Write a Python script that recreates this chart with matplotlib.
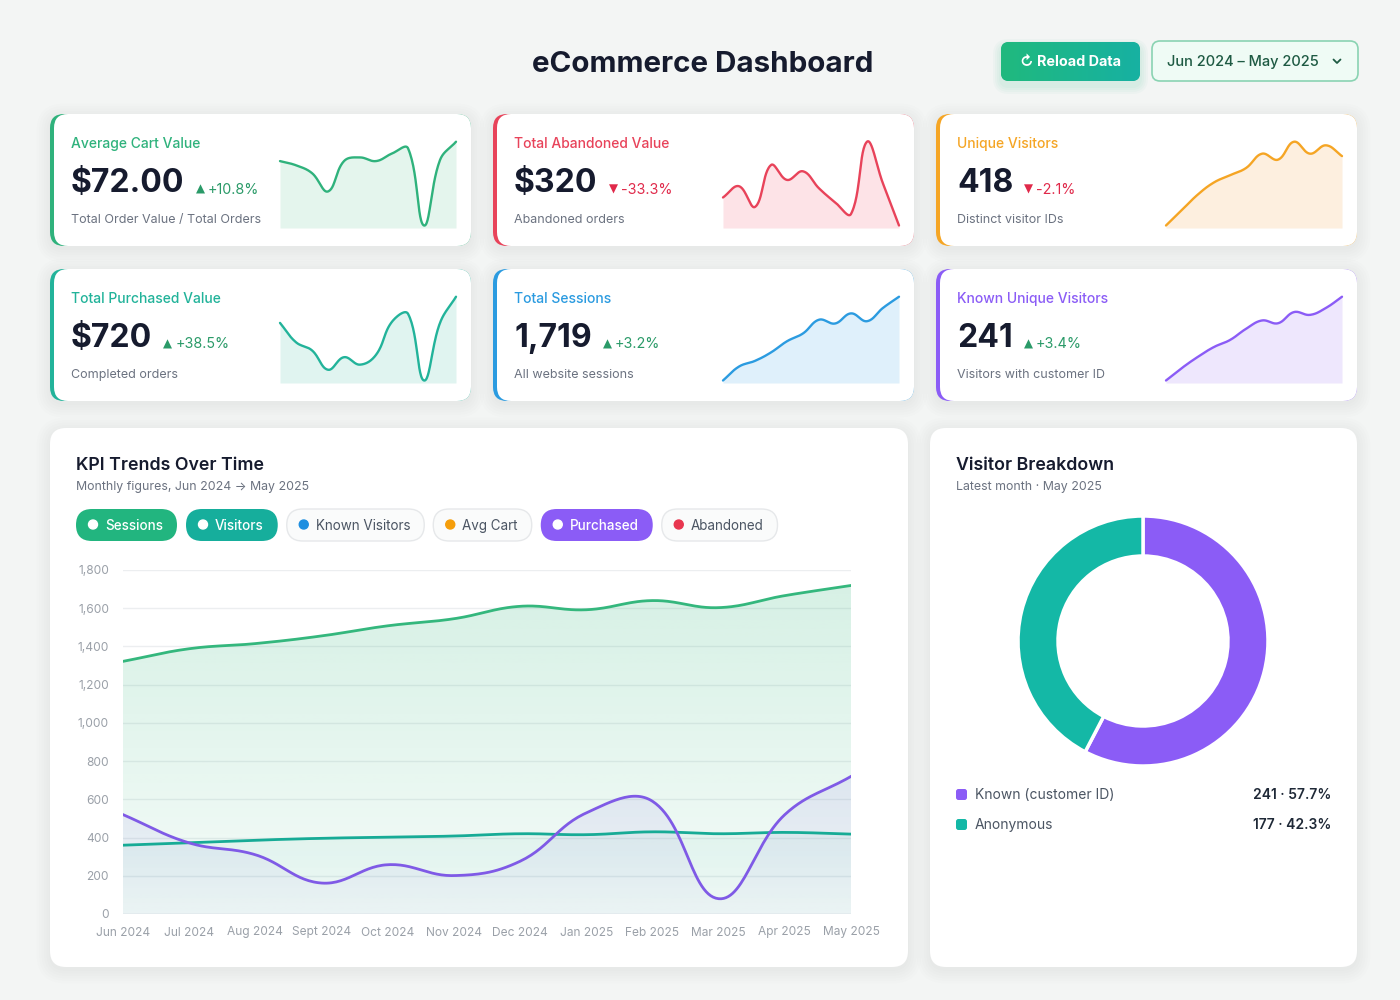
import numpy as np
import matplotlib
matplotlib.use("Agg")
import matplotlib.pyplot as plt
from matplotlib.patches import FancyBboxPatch, Circle, Polygon
from matplotlib.colors import to_rgb
from matplotlib.ticker import FuncFormatter

plt.rcParams['font.family'] = ['Inter', 'DejaVu Sans']

# ---- data ----
months = ["Jun 2024", "Jul 2024", "Aug 2024", "Sept 2024", "Oct 2024", "Nov 2024",
          "Dec 2024", "Jan 2025", "Feb 2025", "Mar 2025", "Apr 2025", "May 2025"]
sessions = [1322, 1388, 1415, 1455, 1508, 1545, 1610, 1592, 1640, 1603, 1666, 1719]
visitors = [360, 373, 386, 396, 402, 408, 420, 415, 430, 420, 427, 418]
known_visitors = [181, 190, 198, 205, 210, 218, 224, 222, 230, 228, 233, 241]
avg_cart = [64.6, 63.0, 60.0, 53.0, 64.6, 66.0, 64.6, 67.5, 69.5, 40.0, 65.0, 72.0]
purchased = [520, 372, 310, 162, 258, 201, 276, 529, 590, 80, 520, 720]
abandoned = [427, 470, 391, 551, 494, 527, 462, 409, 364, 640, 480, 320]

kpi_titles = ["Average Cart Value", "Total Abandoned Value", "Unique Visitors",
              "Total Purchased Value", "Total Sessions", "Known Unique Visitors"]
kpi_values = ["$72.00", "$320", "418", "$720", "1,719", "241"]
kpi_changes = [10.8, -33.3, -2.1, 38.5, 3.2, 3.4]
kpi_notes = ["Total Order Value / Total Orders", "Abandoned orders", "Distinct visitor IDs",
             "Completed orders", "All website sessions", "Visitors with customer ID"]
kpi_series = [avg_cart, abandoned, visitors, purchased, sessions, known_visitors]
kpi_colors = ["#2fb27c", "#e8435a", "#f5a524", "#22b39a", "#2b9be0", "#8b5cf6"]
kpi_fills = ["#e4f5ed", "#fde3e7", "#fdefdf", "#e0f4f0", "#dff0fb", "#eee7fd"]

chip_labels = ["Sessions", "Visitors", "Known Visitors", "Avg Cart", "Purchased", "Abandoned"]
chip_colors = ["#22b57f", "#16ae9c", "#1e8fe0", "#f59e0b", "#8b5cf6", "#e8364f"]
chip_active = [True, True, False, False, True, False]

donut_labels = ["Known (customer ID)", "Anonymous"]
donut_values = [241, 177]
donut_colors = ["#8b5cf6", "#14b8a6"]

BG = "#f3f5f4"
DARK = "#161b2e"
GREY = "#6b7280"
W, H = 1400, 1000

fig = plt.figure(figsize=(14, 10), dpi=100)
fig.patch.set_facecolor(BG)
bg = fig.add_axes([0, 0, 1, 1])
bg.set_xlim(0, W)
bg.set_ylim(H, 0)
bg.set_axis_off()


def px(x0, y0, x1, y1):
    return [x0 / W, 1 - y1 / H, (x1 - x0) / W, (y1 - y0) / H]


def rbox(x, y, w, h, r, fc, ec="none", lw=0, z=1):
    p = FancyBboxPatch((x, y), w, h, boxstyle=f"round,pad=0,rounding_size={r}",
                       fc=fc, ec=ec, lw=lw, zorder=z)
    bg.add_patch(p)
    return p


def card(x, y, w, h, accent=None, r=16):
    # soft shadow
    for k in range(6):
        g = 1 + k * 2.5
        rbox(x - g, y - g + 3, w + 2 * g, h + 2 * g, r + g, (0, 0, 0, 0.008), z=0.5)
    if accent:
        rbox(x, y, w, h, r, accent, z=1)
        rbox(x + 4, y, w - 4, h, r, "white", z=1.1)
    else:
        rbox(x, y, w, h, r, "white", z=1)


def smooth(ax, x, y, tension=0.4, n=30):
    # chart.js style bezier, control points in display space
    pts = ax.transData.transform(np.column_stack([x, y]).astype(float))
    m = len(pts)
    cpp, cpn = pts.copy(), pts.copy()
    for i in range(m):
        p0, p1, p2 = pts[max(i - 1, 0)], pts[i], pts[min(i + 1, m - 1)]
        d01, d12 = np.hypot(*(p1 - p0)), np.hypot(*(p2 - p1))
        s = d01 + d12
        if s == 0:
            continue
        cpp[i] = p1 - tension * d01 / s * (p2 - p0)
        cpn[i] = p1 + tension * d12 / s * (p2 - p0)
    t = np.linspace(0, 1, n)[:, None]
    segs = []
    for i in range(m - 1):
        a, b, c, d = pts[i], cpn[i], cpp[i + 1], pts[i + 1]
        seg = (1 - t) ** 3 * a + 3 * (1 - t) ** 2 * t * b + 3 * (1 - t) * t ** 2 * c + t ** 3 * d
        segs.append(seg if i == 0 else seg[1:])
    out = ax.transData.inverted().transform(np.vstack(segs))
    return out[:, 0], out[:, 1]


def grad_fill(ax, x, y, color, a_top, a_bot, base=0, z=1):
    verts = np.vstack([np.column_stack([x, y]), [[x[-1], base], [x[0], base]]])
    poly = Polygon(verts, closed=True, fc="none", ec="none", transform=ax.transData)
    ax.add_patch(poly)
    img = np.zeros((256, 1, 4))
    img[:, 0, :3] = to_rgb(color)
    img[:, 0, 3] = np.linspace(a_top, a_bot, 256)
    im = ax.imshow(img, aspect="auto", origin="upper", zorder=z,
                   extent=[min(x), max(x), base, max(y)])
    im.set_clip_path(poly)


renderer = fig.canvas.get_renderer()


def text_w(t):
    return t.get_window_extent(renderer=renderer).width


# ---- header ----
bg.text(703, 64.5, "eCommerce Dashboard", ha="center", va="center", fontsize=21.3,
        fontweight="bold", color=DARK)
for k in range(4):
    g = 2 + k * 2
    rbox(1001 - g, 44 - g + 3, 139 + 2 * g, 39 + 2 * g, 8 + g, (0.1, 0.7, 0.5, 0.03), z=0.5)
btn = rbox(1001, 42, 139, 39, 8, "#1cb589", z=2)
gimg = np.zeros((1, 64, 3))
gimg[0, :, :] = np.linspace(to_rgb("#20b97e"), to_rgb("#17b1a2"), 64)
bim = bg.imshow(gimg, aspect="auto", extent=[1001, 1140, 81, 42], zorder=2.1)
bim.set_clip_path(btn)
bg.set_xlim(0, W)
bg.set_ylim(H, 0)
bg.text(1070, 62.5, "↻ Reload Data", ha="center", va="center", fontsize=10.3,
        fontweight="bold", color="white", zorder=3)
rbox(1152, 41, 206, 40, 8, "#effbf5", ec="#8ad3b2", lw=1.2, z=2)
bg.text(1167, 62, "Jun 2024 – May 2025", ha="left", va="center", fontsize=10.5,
        fontweight="medium", color="#1e5a43", zorder=3)
bg.plot([1333.5, 1337, 1340.5], [59.5, 63, 59.5], color="#1e5a43", lw=1.3, zorder=3,
        solid_capstyle="round")

# ---- KPI cards ----
card_x = [50, 493, 936]
card_y = [114, 269]
for i in range(6):
    cx, cy = card_x[i % 3], card_y[i // 3]
    col = kpi_colors[i]
    card(cx, cy, 421, 132, accent=col, r=14)
    bg.text(cx + 21, cy + 30, kpi_titles[i], ha="left", va="center", fontsize=10,
            fontweight="medium", color=col, zorder=3)
    vt = bg.text(cx + 21, cy + 69.5, kpi_values[i], ha="left", va="center", fontsize=23,
                 fontweight="bold", color=DARK, zorder=3)
    ch = kpi_changes[i]
    ccol = "#2a9a68" if ch > 0 else "#e0294a"
    sign = "▲" if ch > 0 else "▼"
    x_ch = cx + 21 + text_w(vt) + 11
    bg.text(x_ch, cy + 75, sign, ha="left", va="center", fontsize=8.5, color=ccol,
            family=["DejaVu Sans"], zorder=3)
    bg.text(x_ch + 12, cy + 75.5, f"{ch:+.1f}%",
            ha="left", va="center", fontsize=10.3, color=ccol, zorder=3)
    bg.text(cx + 21, cy + 106, kpi_notes[i], ha="left", va="center", fontsize=9,
            color=GREY, zorder=3)

    # sparkline
    sa = fig.add_axes(px(cx + 230, cy + 16, cx + 406, cy + 114))
    sa.set_axis_off()
    sa.patch.set_alpha(0)
    data = kpi_series[i]
    lo, hi = min(data), max(data)
    rng = hi - lo
    sa.set_xlim(0, len(data) - 1)
    sa.set_ylim(lo - 0.03 * rng, hi + 0.14 * rng)
    sx, sy = smooth(sa, np.arange(len(data)), data)
    sa.fill_between(sx, sy, sa.get_ylim()[0], color=kpi_fills[i], lw=0)
    sa.plot(sx, sy, color=col, lw=1.7, clip_on=False, solid_capstyle="round")

# ---- KPI trends card ----
card(50, 428, 858, 539)
bg.text(76, 466, "KPI Trends Over Time", ha="left", va="center", fontsize=12.8,
        fontweight="semibold", color=DARK, zorder=3)
bg.text(76, 487, "Monthly figures, Jun 2024 → May 2025", ha="left", va="center",
        fontsize=8.9, color=GREY, zorder=3)

x0 = 76
for lab, col, act in zip(chip_labels, chip_colors, chip_active):
    t = bg.text(x0 + 29, 526, lab, ha="left", va="center", fontsize=9.7,
                fontweight="medium" if act else "normal",
                color="white" if act else "#4b5563", zorder=4)
    w = 29 + text_w(t) + 14
    if act:
        rbox(x0, 509, w, 32, 16, col, z=2)
        bg.add_patch(Circle((x0 + 17, 524.5), 4.5, color="white", zorder=3))
    else:
        rbox(x0, 509, w, 32, 16, "#fafbfb", ec="#e6e8ea", lw=1, z=2)
        bg.add_patch(Circle((x0 + 17, 524.5), 4.5, color=col, zorder=3))
    x0 += w + 9

ax = fig.add_axes(px(123, 570, 851, 914))
ax.patch.set_alpha(0)
ax.set_xlim(0, len(months) - 1)
ax.set_ylim(0, 1800)
xs = np.arange(len(months))
ss_x, ss_y = smooth(ax, xs, sessions)
vs_x, vs_y = smooth(ax, xs, visitors)
ps_x, ps_y = smooth(ax, xs, purchased)
grad_fill(ax, ss_x, ss_y, "#34b77d", 0.20, 0.05, z=1)
grad_fill(ax, vs_x, vs_y, "#16a996", 0.06, 0.03, z=1.1)
grad_fill(ax, ps_x, ps_y, "#8059e8", 0.11, 0.03, z=1.2)
ax.set_xlim(0, len(months) - 1)
ax.set_ylim(0, 1800)
ax.plot(ss_x, ss_y, color="#34b77d", lw=2.0, zorder=3)
ax.plot(vs_x, vs_y, color="#17ab96", lw=2.0, zorder=3)
ax.plot(ps_x, ps_y, color="#7f5ae6", lw=2.0, zorder=3)
ax.set_yticks(np.arange(0, 1801, 200))
ax.yaxis.set_major_formatter(FuncFormatter(lambda v, p: f"{int(v):,}"))
ax.set_xticks(xs)
ax.set_xticklabels(months)
ax.grid(axis="y", color="#eceef0", lw=1)
ax.set_axisbelow(True)
for s in ax.spines.values():
    s.set_visible(False)
ax.tick_params(length=0, labelsize=8.6, labelcolor="#9aa0a8")
ax.tick_params(axis="y", pad=10)
ax.tick_params(axis="x", pad=9)
ax.axhline(0, color="#e3e5e8", lw=1, zorder=0.5)

# ---- Visitor breakdown card ----
card(930, 428, 427, 539)
bg.text(956, 466, "Visitor Breakdown", ha="left", va="center", fontsize=12.8,
        fontweight="semibold", color=DARK, zorder=3)
bg.text(956, 487, "Latest month · May 2025", ha="left", va="center",
        fontsize=8.9, color=GREY, zorder=3)

dax = fig.add_axes(px(1018, 516, 1268, 766))
dax.pie(donut_values, colors=donut_colors, startangle=90, counterclock=False,
        wedgeprops=dict(width=0.32, edgecolor="white", linewidth=2.5))
dax.set_xlim(-1, 1)
dax.set_ylim(-1, 1)
dax.set_aspect("equal")

total = sum(donut_values)
for k, (lab, val, col) in enumerate(zip(donut_labels, donut_values, donut_colors)):
    yy = 795 + k * 30
    rbox(956, yy - 6, 11, 11, 2.5, col, z=3)
    bg.text(975, yy, lab, ha="left", va="center", fontsize=10, color="#4b5563", zorder=3)
    bg.text(1331, yy, f"{val} · {val / total * 100:.1f}%", ha="right", va="center",
            fontsize=10, fontweight="semibold", color="#1f2937", zorder=3)

fig.savefig("out.png", dpi=100, facecolor=BG)
